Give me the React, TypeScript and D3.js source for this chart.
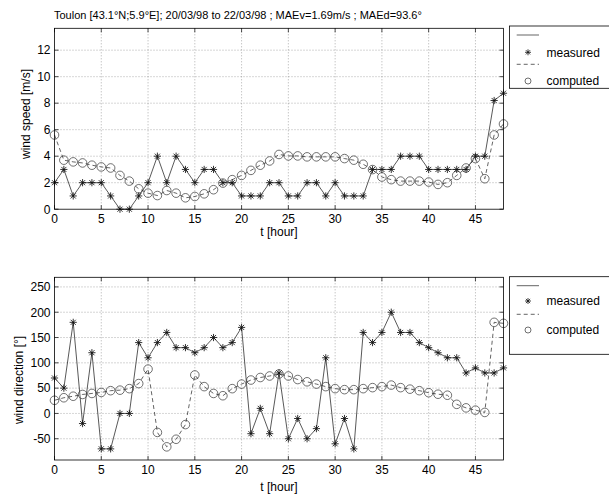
import React from "react";
import * as d3 from "d3";

const hours = [0,1,2,3,4,5,6,7,8,9,10,11,12,13,14,15,16,17,18,19,20,21,22,23,24,25,26,27,28,29,30,31,32,33,34,35,36,37,38,39,40,41,42,43,44,45,46,47,48];

const speedMeasured = [2,3,1,2,2,2,1,0,0,1,2,4,2,4,3,2,3,3,2,2,1,1,1,2,2,1,1,2,2,1,2,1,1,1,3,3,3,4,4,4,3,3,3,3,3,4,4,8.2,8.75];
const speedComputed = [5.6,3.7,3.57,3.49,3.32,3.19,3.11,2.55,2.12,1.54,1.21,1.03,1.41,1.21,0.86,0.96,1.16,1.47,1.97,2.23,2.55,2.93,3.32,3.64,4.13,4.02,4.02,3.95,3.95,3.95,3.95,3.82,3.7,3.39,2.99,2.43,2.23,2.12,2.12,2.12,2.05,1.87,2.0,2.55,3.11,3.82,2.3,5.6,6.43];

const dirMeasured = [70,50,180,-20,120,-70,-70,0,0,140,110,140,160,130,130,120,130,150,130,140,170,-40,10,-40,80,-50,-10,-50,-30,110,-60,-10,-70,160,140,160,200,160,160,140,130,120,110,110,80,90,80,80,90];
const dirComputed = [26,31,34,37.5,39.5,41.5,45,46,49,59,87.5,-37.5,-66,-51,-22,76,53,39.5,35,49,58,66,71,74,78,74,67,62.5,58,53,49,47,47,49,51,53,56,51,48,45,41,38,36,18,11,6.5,2,180,178];

const xTicks = [0,5,10,15,20,25,30,35,40,45];
const speedTicks = [0,2,4,6,8,10,12];
const dirTicks = [-50,0,50,100,150,200,250];

const titleText = "Toulon [43.1°N;5.9°E]; 20/03/98 to 22/03/98 ; MAEv=1.69m/s ; MAEd=93.6°";
const xLabel = "t [hour]";
const speedLabel = "wind speed [m/s]";
const dirLabel = "wind direction [°]";
const legendLabels = ["measured", "computed"];

const FONT = "'Liberation Sans', Arial, Helvetica, sans-serif";
const LEFT = 54.5;
const RIGHT = 503.5;

function starPath(r: number) {
  const d = r * Math.SQRT1_2;
  return `M${-r},0L${r},0M0,${-r}L0,${r}M${-d},${-d}L${d},${d}M${-d},${d}L${d},${-d}`;
}

type PanelProps = {
  top: number;
  bottom: number;
  yDomain: [number, number];
  yTicks: number[];
  measured: number[];
  computed: number[];
  ylabel: string;
  ylabelX: number;
  ylabelY: number;
  xlabelY: number;
  legendTop: number;
  legendBottom: number;
  legendOffsets: number[];
};

function Panel(p: PanelProps) {
  const x = d3.scaleLinear().domain([0, 48]).range([LEFT, RIGHT]);
  const y = d3.scaleLinear().domain(p.yDomain).range([p.bottom, p.top]);
  const lineM = d3.line<number>().x((_, i) => x(hours[i])).y((d) => y(d));
  const tl = 4;
  const lx1 = 516.7, lx2 = 539, lmx = 528, ltx = 546.5;
  return (
    <g>
      {xTicks.filter((t) => t > 0).map((t) => (
        <line key={"gx" + t} x1={x(t)} x2={x(t)} y1={p.top} y2={p.bottom} stroke="#777" strokeWidth={0.6} strokeDasharray="1,2" />
      ))}
      {p.yTicks.filter((t) => y(t) < p.bottom - 1).map((t) => (
        <line key={"gy" + t} x1={LEFT} x2={RIGHT} y1={y(t)} y2={y(t)} stroke="#777" strokeWidth={0.6} strokeDasharray="1,2" />
      ))}
      <path d={lineM(p.computed) || ""} fill="none" stroke="#222" strokeWidth={0.7} strokeDasharray="4,3" />
      <path d={lineM(p.measured) || ""} fill="none" stroke="#222" strokeWidth={0.75} />
      {p.computed.map((v, i) => (
        <circle key={"c" + i} cx={x(hours[i])} cy={y(v)} r={4.3} fill="none" stroke="#333" strokeWidth={0.7} />
      ))}
      {p.measured.map((v, i) => (
        <path key={"m" + i} transform={`translate(${x(hours[i])},${y(v)})`} d={starPath(3.6)} stroke="#111" strokeWidth={0.85} fill="none" />
      ))}
      <rect x={LEFT} y={p.top} width={RIGHT - LEFT} height={p.bottom - p.top} fill="none" stroke="#000" strokeWidth={0.8} />
      {xTicks.map((t) => (
        <g key={"xt" + t}>
          <line x1={x(t)} x2={x(t)} y1={p.bottom} y2={p.bottom - tl} stroke="#000" strokeWidth={0.7} />
          <line x1={x(t)} x2={x(t)} y1={p.top} y2={p.top + tl} stroke="#000" strokeWidth={0.7} />
          <text x={x(t)} y={p.bottom + 13.5} textAnchor="middle" fontSize={12} fontFamily={FONT}>{t}</text>
        </g>
      ))}
      {p.yTicks.map((t) => (
        <g key={"yt" + t}>
          <line x1={LEFT} x2={LEFT + tl} y1={y(t)} y2={y(t)} stroke="#000" strokeWidth={0.7} />
          <line x1={RIGHT} x2={RIGHT - tl} y1={y(t)} y2={y(t)} stroke="#000" strokeWidth={0.7} />
          <text x={LEFT - 4} y={y(t) + 4.3} textAnchor="end" fontSize={12} fontFamily={FONT}>{t}</text>
        </g>
      ))}
      <text x={(LEFT + RIGHT) / 2} y={p.xlabelY} textAnchor="middle" fontSize={12} fontFamily={FONT}>{xLabel}</text>
      <text transform={`translate(${p.ylabelX},${p.ylabelY}) rotate(-90)`} textAnchor="middle" fontSize={12} fontFamily={FONT}>{p.ylabel}</text>
      <rect x={509.5} y={p.legendTop} width={120} height={p.legendBottom - p.legendTop} fill="#fff" stroke="#000" strokeWidth={0.8} />
      <line x1={lx1} x2={lx2} y1={p.legendTop + p.legendOffsets[0]} y2={p.legendTop + p.legendOffsets[0]} stroke="#222" strokeWidth={0.7} />
      <path transform={`translate(${lmx},${p.legendTop + p.legendOffsets[1]})`} d={starPath(3)} stroke="#111" strokeWidth={0.8} />
      <text x={ltx} y={p.legendTop + p.legendOffsets[1] + 4.3} fontSize={12} fontFamily={FONT}>{legendLabels[0]}</text>
      <line x1={lx1} x2={lx2} y1={p.legendTop + p.legendOffsets[2]} y2={p.legendTop + p.legendOffsets[2]} stroke="#222" strokeWidth={0.7} strokeDasharray="4,3" />
      <circle cx={lmx} cy={p.legendTop + p.legendOffsets[3]} r={3} fill="none" stroke="#333" strokeWidth={0.7} />
      <text x={ltx} y={p.legendTop + p.legendOffsets[3] + 4.3} fontSize={12} fontFamily={FONT}>{legendLabels[1]}</text>
    </g>
  );
}

export default function App() {
  return (
    <svg width={609} height={495} style={{ position: "absolute", left: 0, top: 0, background: "#fff" }}>
      <rect x={0} y={0} width={609} height={495} fill="#fff" />
      <text x={54} y={19} fontSize={11} fontFamily={FONT}>{titleText}</text>
      <Panel
        top={28.3}
        bottom={209.2}
        yDomain={[0, 13.65]}
        yTicks={speedTicks}
        measured={speedMeasured}
        computed={speedComputed}
        ylabel={speedLabel}
        ylabelX={30}
        ylabelY={114}
        xlabelY={236}
        legendTop={26}
        legendBottom={88.3}
        legendOffsets={[9, 26.3, 38.3, 55]}
      />
      <Panel
        top={277.3}
        bottom={460}
        yDomain={[-92, 269]}
        yTicks={dirTicks}
        measured={dirMeasured}
        computed={dirComputed}
        ylabel={dirLabel}
        ylabelX={23}
        ylabelY={380}
        xlabelY={491}
        legendTop={276.7}
        legendBottom={354.3}
        legendOffsets={[9, 24.3, 37.6, 53.3]}
      />
    </svg>
  );
}
